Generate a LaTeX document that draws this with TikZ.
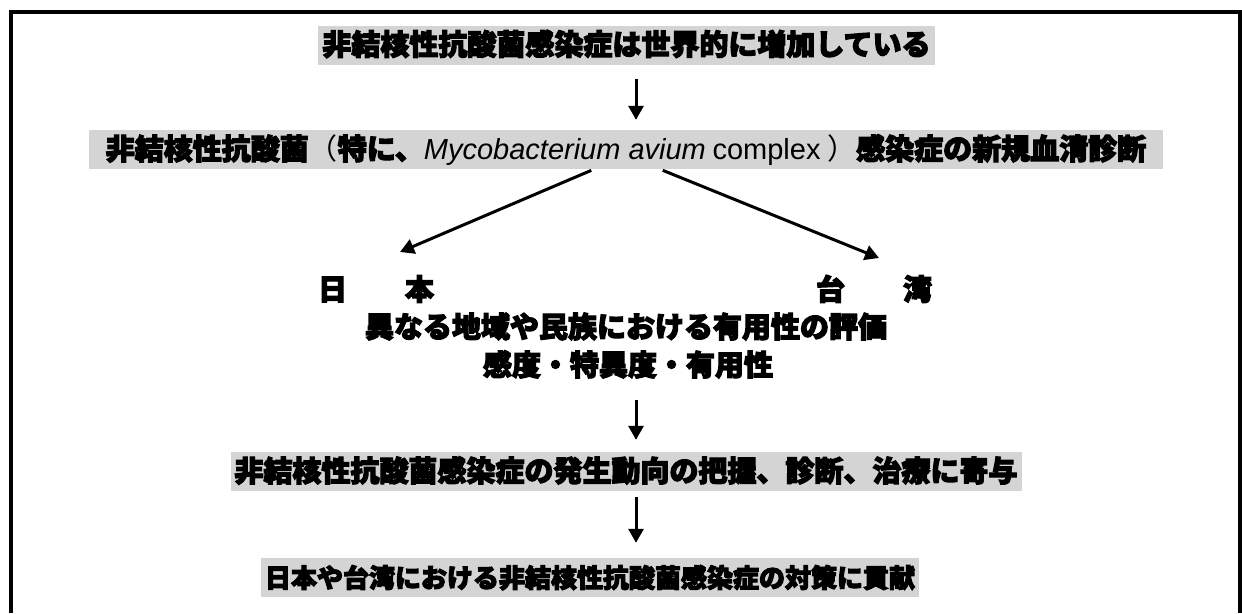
\documentclass[tikz,border=0pt]{standalone}
\usepackage{fontspec}
\setmainfont{Noto Sans CJK JP}[BoldFeatures={FakeBold=4}]
\newfontfamily\latin{Liberation Sans}
\usetikzlibrary{arrows.meta}
\definecolor{bandgray}{RGB}{212,212,212}
\newcommand{\bandfont}{\fontsize{29}{31}\selectfont\bfseries}

\begin{document}
\begin{tikzpicture}[x=1pt,y=-1pt,
  band/.style={fill=bandgray,inner xsep=4pt,inner ysep=0pt,minimum height=39pt,
    text height=24pt,text depth=4pt,font=\bandfont},
  plaintext/.style={inner sep=0pt,text height=24pt,text depth=4pt,font=\bandfont},
  flow/.style={line width=3pt,-{Triangle[width=15pt,length=14pt]}}]
  \useasboundingbox (0,0) rectangle (1242,613);
  \draw[line width=4pt] (11,613) -- (11,12) -- (1240,12) -- (1240,613);
  \coordinate (spine) at (636,0);
  \node[band,minimum width=613pt] (rise) at (626.5,45) {非結核性抗酸菌感染症は世界的に増加している};
  \node[band,minimum width=1074pt] (serology) at (626,149.5)
   {非結核性抗酸菌{\mdseries（}特に、{\latin\mdseries\itshape Mycobacterium avium} {\latin\mdseries complex} {\mdseries）}感染症の新規血清診断};
  \node[plaintext] (japan)  at (376,290) {日\hspace{2em}本};
  \node[plaintext] (taiwan) at (874,290) {台\hspace{2em}湾};
  \node[plaintext] (region) at (626,327.5) {異なる地域や民族における有用性の評価};
  \node[plaintext] (sens)   at (628,365.5) {感度・特異度・有用性};
  \node[band,minimum width=788pt] (contrib) at (626,471.5) {非結核性抗酸菌感染症の発生動向の把握、診断、治療に寄与};
  \node[band,minimum width=656pt,font=\fontsize{26}{28}\selectfont\bfseries] (measure) at (590,577.5)
   {日本や台湾における非結核性抗酸菌感染症の対策に貢献};
  \coordinate (jptip) at (400,252);
  \coordinate (twtip) at (879,258);
  \draw[flow,shorten <=14pt,shorten >=10pt] (rise.south -| spine) -- (serology.north -| spine);
  \draw[flow,shorten <=3pt] ([xshift=-32pt]serology.south) -- (jptip);
  \draw[flow,shorten <=3pt] ([xshift=34pt]serology.south) -- (twtip);
  \draw[flow,shorten <=20pt,shorten >=12pt] (sens.south -| spine) -- (contrib.north -| spine);
  \draw[flow,shorten <=6pt,shorten >=15pt] (contrib.south -| spine) -- (measure.north -| spine);
\end{tikzpicture}
\end{document}
